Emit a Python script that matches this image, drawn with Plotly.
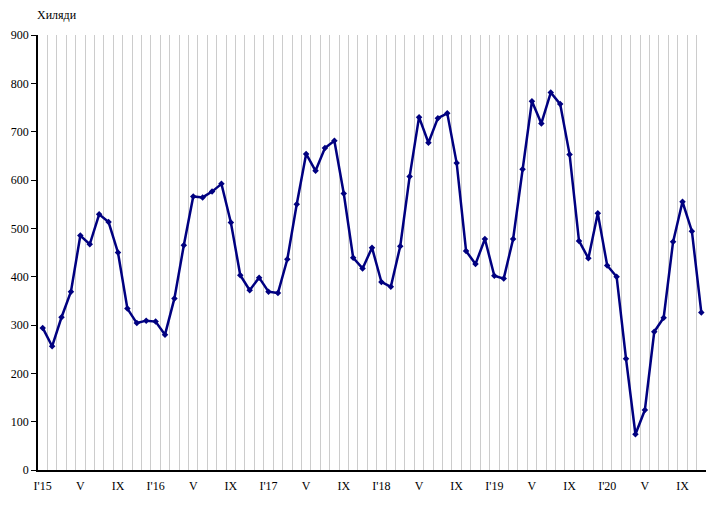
import plotly.graph_objects as go

values = [294, 256, 316, 369, 485, 467, 529, 513, 450, 334, 304, 309,
          307, 280, 355, 465, 566, 564, 576, 592, 512, 403, 372, 398,
          369, 366, 436, 550, 654, 619, 666, 681, 572, 439, 417, 460,
          389, 379, 463, 607, 730, 677, 728, 738, 635, 453, 426, 478,
          402, 396, 478, 622, 763, 717, 781, 757, 653, 474, 438, 531,
          423, 400, 230, 74, 124, 286, 315, 472, 555, 494, 326]

tick_labels = ["I'15", "V", "IX", "I'16", "V", "IX", "I'17", "V", "IX",
               "I'18", "V", "IX", "I'19", "V", "IX", "I'20", "V", "IX"]

x = list(range(len(values)))
tick_positions = [i * 4 for i in range(len(tick_labels))]

font_serif = "Liberation Serif, Times New Roman, serif"

fig = go.Figure()
fig.add_trace(go.Scatter(
    x=x, y=values, mode="lines+markers",
    line=dict(color="#000080", width=2.5),
    marker=dict(symbol="diamond", size=5, color="#000080"),
    showlegend=False, hoverinfo="skip",
))

# page body has an 8px default margin; figure sized to fit inside the window
fig.update_layout(
    width=705, height=495,
    margin=dict(l=30, r=7, t=27, b=33),
    paper_bgcolor="white", plot_bgcolor="white",
    font=dict(family=font_serif, size=12, color="black"),
    annotations=[dict(text="Хиляди", xref="paper", yref="paper",
                      x=-0.004, y=1.025, xanchor="left", yanchor="bottom",
                      showarrow=False, font=dict(family=font_serif, size=12, color="black"))],
)

fig.update_xaxes(
    range=[-0.5, len(values) - 0.5], automargin=False,
    tickmode="array", tickvals=tick_positions, ticktext=tick_labels,
    showgrid=False, zeroline=False,
    showline=True, linecolor="black", linewidth=1.5,
    ticks="outside", ticklen=4, tickcolor="rgba(0,0,0,0)",
    tickfont=dict(family=font_serif, size=12, color="black"),
    minor=dict(tick0=-0.5, dtick=1, showgrid=True, gridcolor="#cccccc", gridwidth=1.2),
)
fig.update_yaxes(
    range=[0, 900], tickmode="linear", tick0=0, dtick=100, automargin=False,
    showgrid=False, zeroline=False,
    showline=True, linecolor="black", linewidth=1.5,
    ticks="outside", ticklen=5, tickcolor="black",
    tickfont=dict(family=font_serif, size=12, color="black"),
)

fig.write_html("out.html")
